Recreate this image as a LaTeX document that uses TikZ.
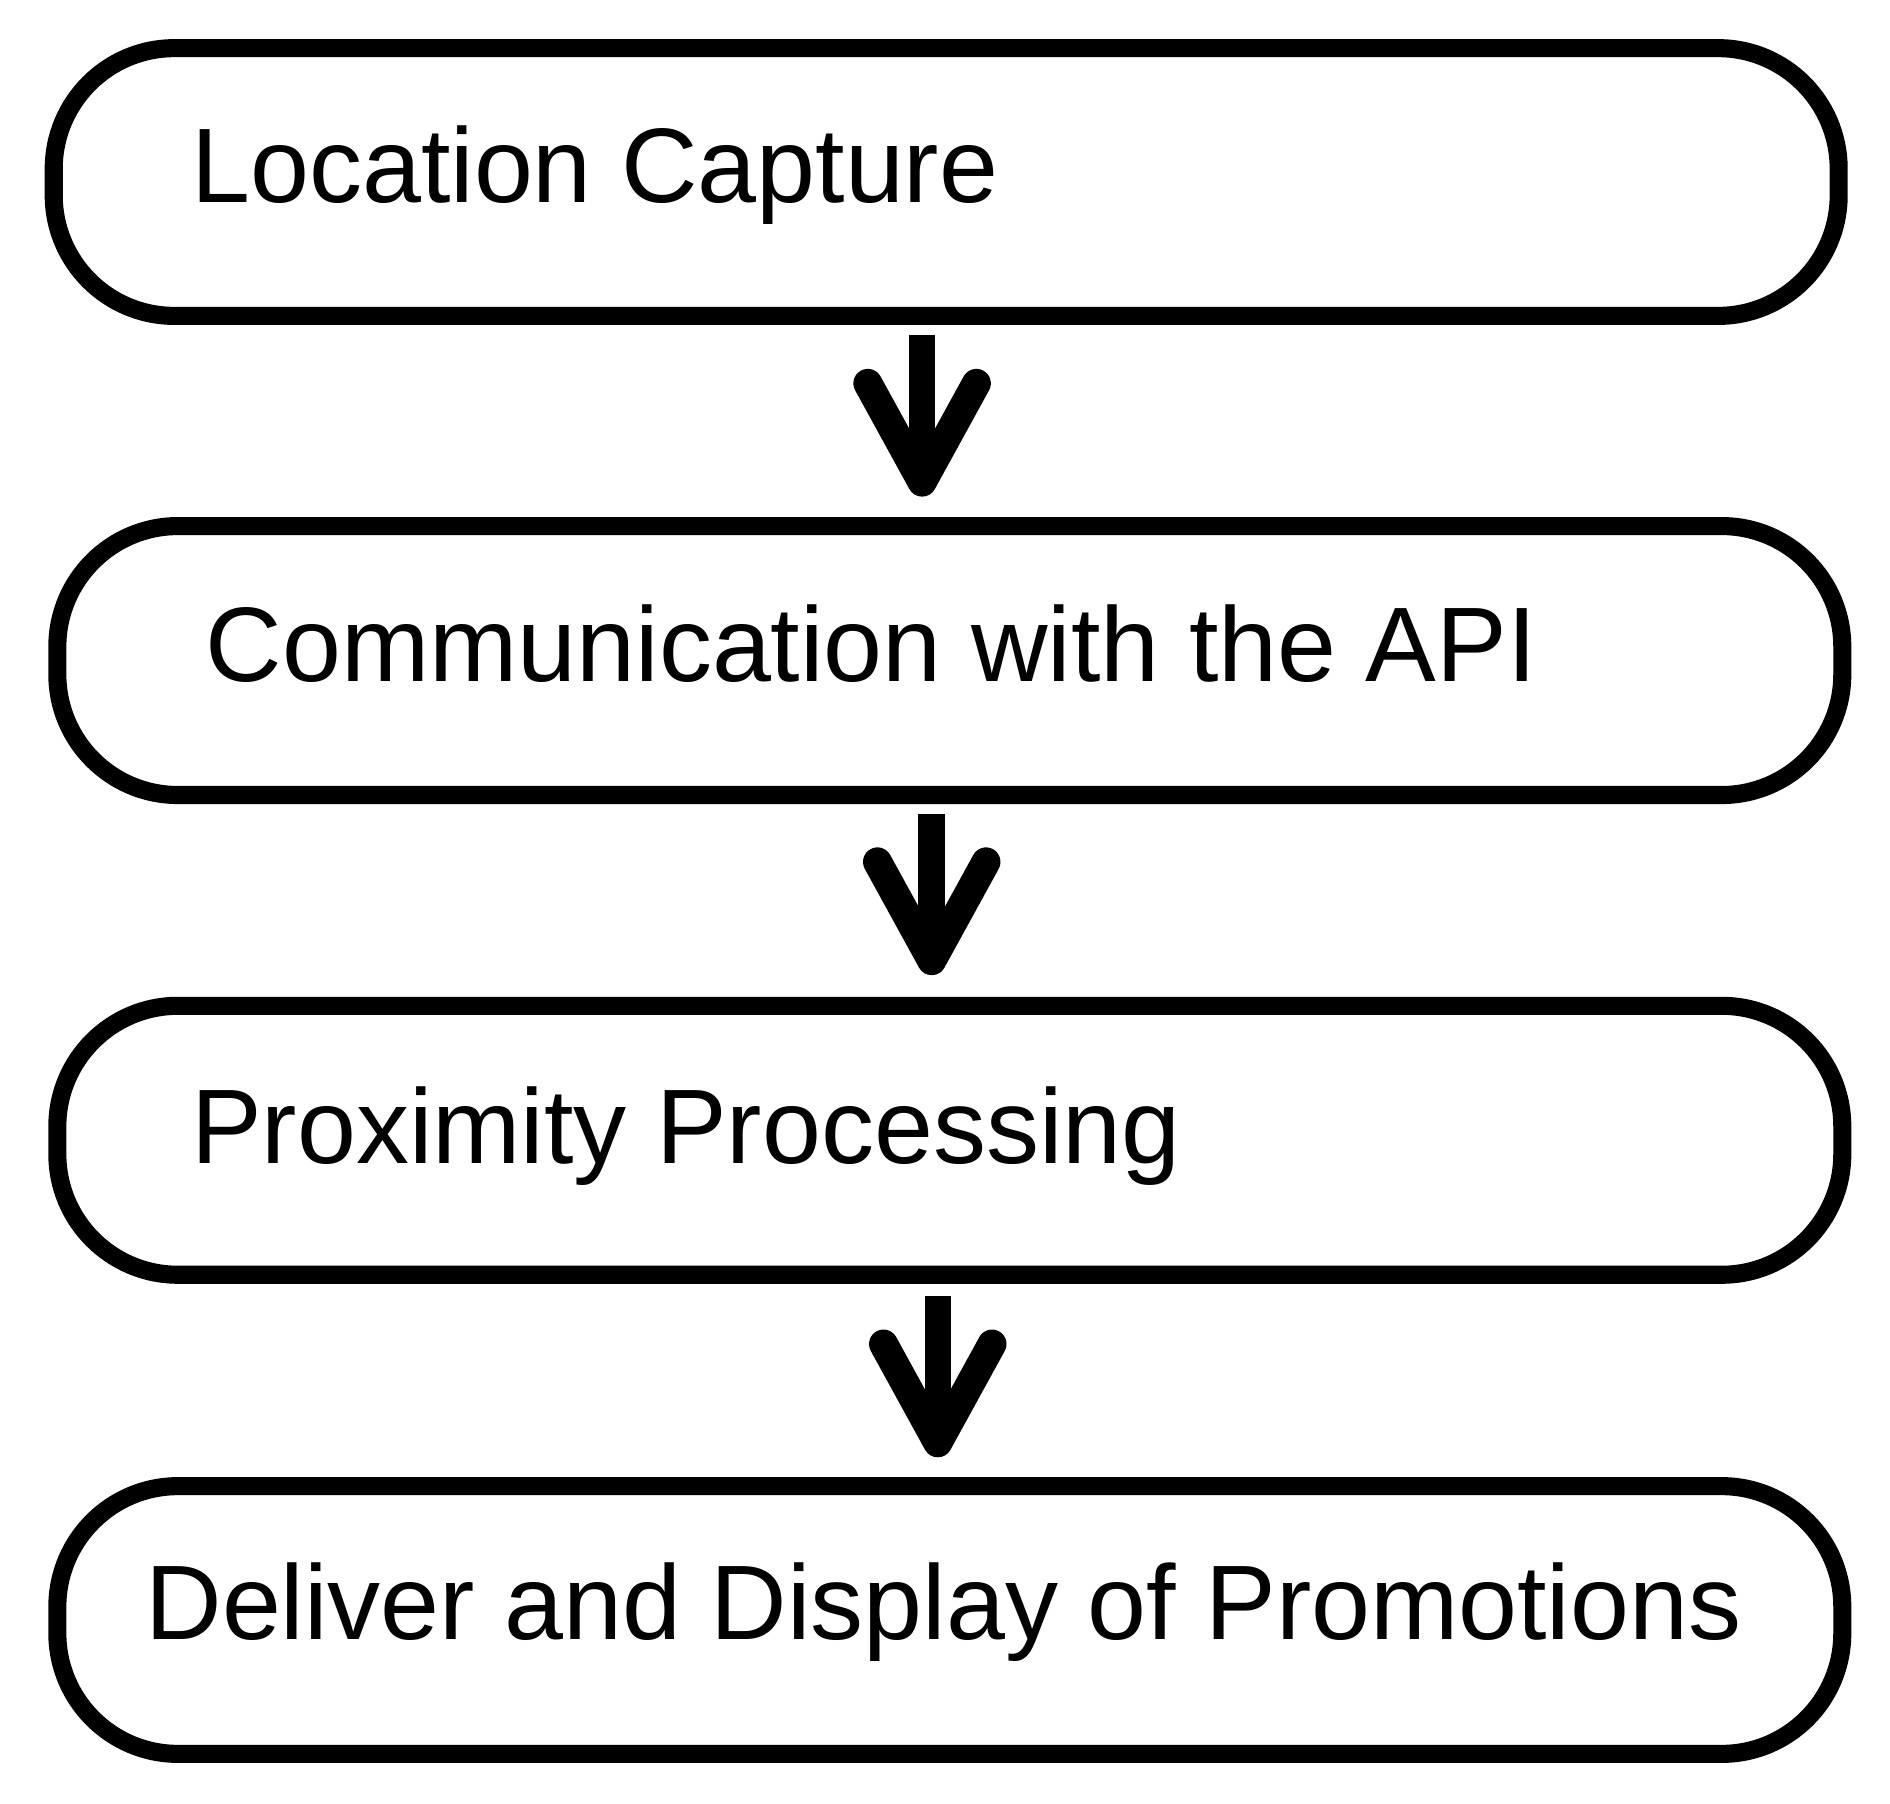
\documentclass[tikz,border=0pt]{standalone}
\usepackage{fontspec}
\setmainfont{Liberation Sans}
\begin{document}
\begin{tikzpicture}[x=0.01cm,y=-0.01cm,
  box/.style={draw,line width=0.15cm,rounded corners=1cm,inner sep=0pt},
  lbl/.style={anchor=base west,inner sep=0pt,font=\fontsize{25}{30}\selectfont},
  stem/.style={line width=0.22cm},
  head/.style={line width=0.24cm,line join=round,line cap=round}]
\useasboundingbox (0,0) rectangle (1568,1496);
\node[box,minimum width=14.8cm,minimum height=2.22cm] (b1) at (785,151) {};
\node[box,minimum width=14.8cm,minimum height=2.23cm] (b2) at (788,548) {};
\node[box,minimum width=14.8cm,minimum height=2.23cm] (b3) at (788,946) {};
\node[box,minimum width=14.8cm,minimum height=2.22cm] (b4) at (788,1344) {};
\node[lbl] (t1) at (158,168) {Location Capture};
\node[lbl] (t2) at (170,565) {Communication with the API};
\node[lbl] (t3) at (158,965) {Proximity Processing};
\node[lbl] (t4) at (120,1360) {Deliver and Display of Promotions};
\foreach \i/\cx/\ty in {1/765/278, 2/773/675, 3/778/1075}{
  \coordinate (s\i) at (\cx,\ty);
  \coordinate (e\i) at (\cx,\ty+122);
  \draw[stem] (s\i) -- (e\i);
  \draw[head] ([xshift=-0.45cm,yshift=-0.4cm]s\i) -- (e\i) -- ([xshift=0.45cm,yshift=-0.4cm]s\i);
}
\end{tikzpicture}
\end{document}
